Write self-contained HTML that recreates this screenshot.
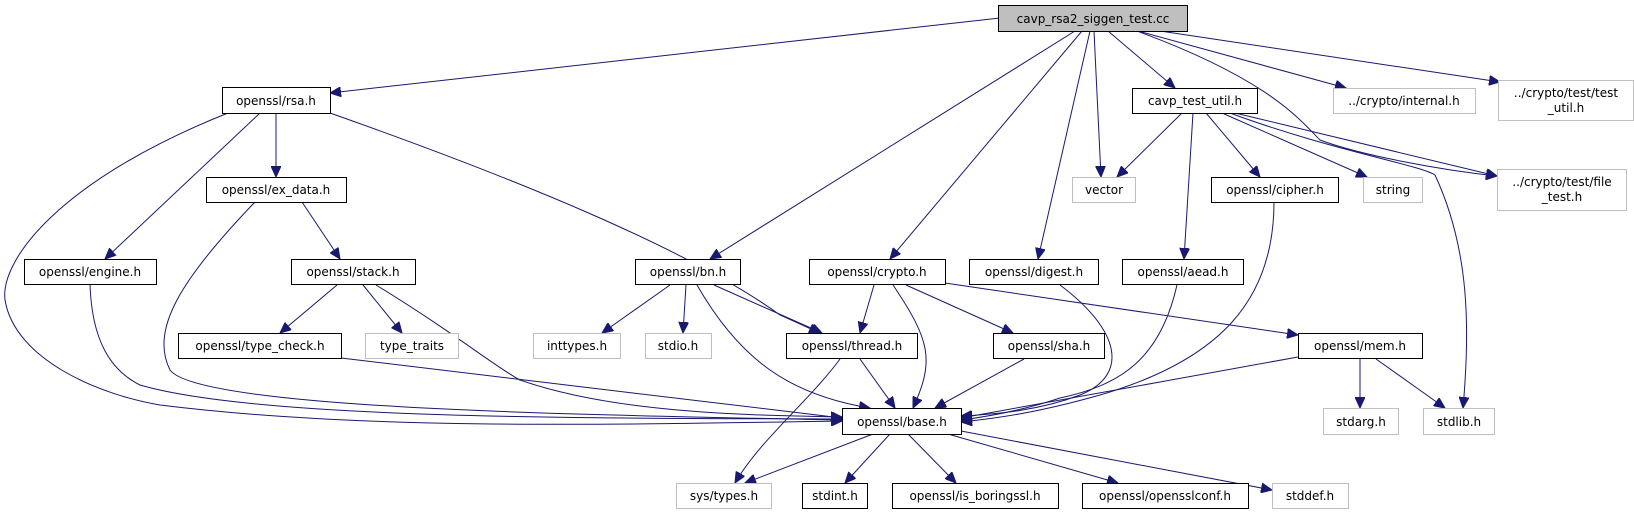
<!DOCTYPE html>
<html><head><meta charset="utf-8"><style>
html,body{margin:0;padding:0;background:#fff}
svg{display:block}
text{font-family:"DejaVu Sans","Liberation Sans",sans-serif;font-size:12px;fill:#000;text-anchor:middle}
.n{fill:#fff;stroke:#000;stroke-width:1}
.g{fill:#fff;stroke:#bfbfbf;stroke-width:1}
.m{fill:#bfbfbf;stroke:#000;stroke-width:1}
path{fill:none;stroke:#191970;stroke-width:1}
</style></head><body>
<svg width="1634" height="515" viewBox="0 0 1634 515" xmlns="http://www.w3.org/2000/svg">
<defs><marker id="a" markerUnits="userSpaceOnUse" markerWidth="12" markerHeight="10" refX="11" refY="5" orient="auto"><path d="M0,0 L11,5 L0,10 Z" style="fill:#191970;stroke:#191970"/></marker></defs>
<g marker-end="url(#a)">
<path d="M1000,18 L330,93"/>
<path d="M1075,31 L710,259"/>
<path d="M1082,31 L890,259"/>
<path d="M1090,31 L1038,259"/>
<path d="M1094,31 L1101,177"/>
<path d="M1108,31 L1175,88"/>
<path d="M1138,31 L1346,88"/>
<path d="M1160,31 L1500,82"/>
<path d="M1137,31 C1270,80 1300,120 1320,140 C1360,155 1440,170 1497,176"/>
<path d="M1182,113 L1117,177"/>
<path d="M1193,113 L1184,259"/>
<path d="M1206,113 L1260,177"/>
<path d="M1222,113 L1367,177"/>
<path d="M1235,113 L1497,176"/>
<path d="M1230,113 C1330,150 1420,165 1435,175 C1470,250 1470,330 1463,408"/>
<path d="M276,113 L276,177"/>
<path d="M260,113 L105,259"/>
<path d="M228,113 C60,180 0,260 5,300 C15,360 100,395 160,405 C360,430 600,425 842,421"/>
<path d="M330,113 C520,180 690,250 780,315 L820,333"/>
<path d="M302,202 L340,259"/>
<path d="M255,202 C180,280 150,330 170,370 C200,410 600,415 842,420"/>
<path d="M90,285 C92,340 110,370 140,385 C260,420 600,418 842,419"/>
<path d="M337,285 L280,333"/>
<path d="M363,285 L402,333"/>
<path d="M376,285 C450,330 500,370 520,380 C620,415 760,415 842,417"/>
<path d="M341,358 L842,418"/>
<path d="M670,285 L602,333"/>
<path d="M686,285 L683,333"/>
<path d="M714,285 L822,333"/>
<path d="M697,285 C740,360 790,395 870,408"/>
<path d="M874,285 L860,333"/>
<path d="M893,285 C930,340 935,360 913,408"/>
<path d="M906,285 L1013,333"/>
<path d="M945,283 L1298,335"/>
<path d="M1060,285 C1120,330 1130,375 1080,395 C1040,410 1000,414 961,416"/>
<path d="M1177,285 C1160,360 1120,385 1060,398 C1030,408 1000,415 961,420"/>
<path d="M1274,202 C1274,300 1220,360 1100,395 C1040,412 1000,418 961,422"/>
<path d="M860,359 L895,408"/>
<path d="M840,359 C810,400 760,440 735,483"/>
<path d="M1024,359 L935,408"/>
<path d="M1298,357 L961,418"/>
<path d="M1360,359 L1360,408"/>
<path d="M1376,359 L1445,408"/>
<path d="M873,434 L745,483"/>
<path d="M890,434 L845,483"/>
<path d="M908,434 L956,483"/>
<path d="M948,434 L1118,483"/>
<path d="M961,431 L1272,490"/>
</g>
<rect class="m" x="998.5" y="5.5" width="189" height="26"/><text x="1093" y="23">cavp_rsa2_siggen_test.cc</text>
<rect class="n" x="222.5" y="87.5" width="108" height="26"/><text x="276" y="105">openssl/rsa.h</text>
<rect class="n" x="1132.5" y="88.5" width="125" height="25"/><text x="1195" y="105">cavp_test_util.h</text>
<rect class="g" x="1333.5" y="88.5" width="142" height="25"/><text x="1404" y="105">../crypto/internal.h</text>
<rect class="g" x="1498.5" y="80.5" width="135" height="40"/><text x="1566" y="97">../crypto/test/test</text><text x="1566" y="112">_util.h</text>
<rect class="n" x="206.5" y="177.5" width="140" height="25"/><text x="276" y="194">openssl/ex_data.h</text>
<rect class="g" x="1072.5" y="177.5" width="63" height="25"/><text x="1104" y="194">vector</text>
<rect class="n" x="1211.5" y="177.5" width="127" height="25"/><text x="1275" y="194">openssl/cipher.h</text>
<rect class="g" x="1363.5" y="177.5" width="59" height="25"/><text x="1393" y="194">string</text>
<rect class="g" x="1497.5" y="169.5" width="129" height="41"/><text x="1562" y="186">../crypto/test/file</text><text x="1562" y="201">_test.h</text>
<rect class="n" x="24.5" y="259.5" width="132" height="25"/><text x="90" y="276">openssl/engine.h</text>
<rect class="n" x="291.5" y="259.5" width="124" height="25"/><text x="353" y="276">openssl/stack.h</text>
<rect class="n" x="635.5" y="259.5" width="105" height="25"/><text x="688" y="276">openssl/bn.h</text>
<rect class="n" x="809.5" y="259.5" width="136" height="25"/><text x="877" y="276">openssl/crypto.h</text>
<rect class="n" x="969.5" y="259.5" width="129" height="25"/><text x="1034" y="276">openssl/digest.h</text>
<rect class="n" x="1122.5" y="259.5" width="121" height="25"/><text x="1183" y="276">openssl/aead.h</text>
<rect class="n" x="178.5" y="333.5" width="163" height="25"/><text x="260" y="350">openssl/type_check.h</text>
<rect class="g" x="365.5" y="333.5" width="93" height="25"/><text x="412" y="350">type_traits</text>
<rect class="g" x="533.5" y="333.5" width="87" height="25"/><text x="577" y="350">inttypes.h</text>
<rect class="g" x="645.5" y="333.5" width="66" height="25"/><text x="678" y="350">stdio.h</text>
<rect class="n" x="786.5" y="333.5" width="131" height="25"/><text x="852" y="350">openssl/thread.h</text>
<rect class="n" x="993.5" y="333.5" width="111" height="25"/><text x="1049" y="350">openssl/sha.h</text>
<rect class="n" x="1298.5" y="333.5" width="124" height="25"/><text x="1360" y="350">openssl/mem.h</text>
<rect class="n" x="842.5" y="408.5" width="119" height="26"/><text x="902" y="426">openssl/base.h</text>
<rect class="g" x="1323.5" y="408.5" width="75" height="26"/><text x="1361" y="426">stdarg.h</text>
<rect class="g" x="1423.5" y="408.5" width="71" height="26"/><text x="1459" y="426">stdlib.h</text>
<rect class="g" x="676.5" y="483.5" width="95" height="25"/><text x="724" y="500">sys/types.h</text>
<rect class="n" x="802.5" y="483.5" width="65" height="25"/><text x="835" y="500">stdint.h</text>
<rect class="n" x="892.5" y="483.5" width="166" height="25"/><text x="975" y="500">openssl/is_boringssl.h</text>
<rect class="n" x="1082.5" y="483.5" width="166" height="25"/><text x="1165" y="500">openssl/opensslconf.h</text>
<rect class="g" x="1272.5" y="483.5" width="76" height="25"/><text x="1310" y="500">stddef.h</text>
</svg>
</body></html>
